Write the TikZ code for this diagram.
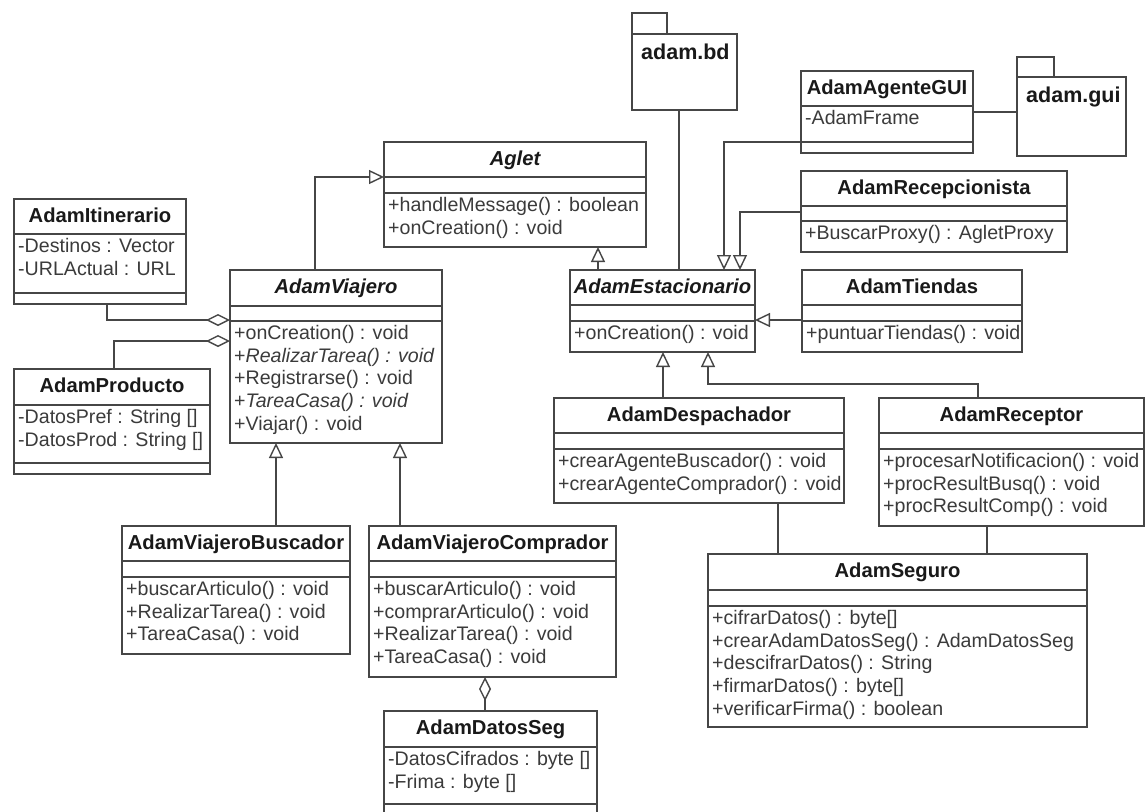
\documentclass[tikz,border=0pt]{standalone}
\usepackage{fontspec}
\setmainfont{Liberation Sans}
\usetikzlibrary{arrows.meta,calc}

\definecolor{ink}{RGB}{25,25,25}
\definecolor{edge}{RGB}{70,70,70}

\tikzset{
  clsbox/.style={draw=edge, line width=1.4pt, fill=white, rectangle, inner sep=0pt, outer sep=0pt},
  ln/.style={draw=edge, line width=1.4pt},
  ttl/.style={font=\fontsize{20.2}{24}\selectfont\bfseries, text=ink, inner sep=0pt, anchor=base},
  txt/.style={font=\fontsize{19.6}{23}\selectfont, text=ink!85, inner sep=0pt, anchor=base west},
  pkgttl/.style={font=\fontsize{21.5}{25}\selectfont\bfseries, text=ink, inner sep=0pt, anchor=base west},
  gen/.style={ln, -{Triangle[open, length=15pt, width=14pt, fill=white]}},
  agg/.style={ln, -{Diamond[open, length=24pt, width=12pt, fill=white]}},
  assoc/.style={ln},
}

% class box: name, left, top, right, first divider, second divider, bottom
\newcommand\umlbox[7]{%
  \pgfmathsetmacro\bw{#4-#2}%
  \pgfmathsetmacro\bh{#7-#3}%
  \node[clsbox, anchor=north west, minimum width=\bw pt, minimum height=\bh pt] (#1) at (#2,#3) {};
  \draw[ln] (#2,#5) -- (#4,#5);
  \draw[ln] (#2,#6) -- (#4,#6);
}
% class name centred in the top compartment
\newcommand\umltitle[2]{%
  \node[ttl] (#1t) at ($(#1.north)+(0,23)$) {#2};
}
% member lines: name, left, compartment top, list of lines
\newcommand\umltext[4]{%
  \foreach \t [count=\i] in {#4} {
    \node[txt] (#1l\i) at ({#2+4},{#3+18.5+(\i-1)*22.7}) {\t};
  }
}
% package: name, left, tab top, tab right, body top, right, bottom
\newcommand\umlpkg[8]{%
  \pgfmathsetmacro\bw{#6-#2}%
  \pgfmathsetmacro\bh{#7-#5}%
  \draw[ln, fill=white] (#2,#5) -- (#2,#3) -- (#4,#3) -- (#4,#5);
  \node[clsbox, anchor=north west, minimum width=\bw pt, minimum height=\bh pt] (#1) at (#2,#5) {};
  \node[pkgttl] (#1t) at ($(#1.north west)+(9,25)$) {#8};
}

\begin{document}
\begin{tikzpicture}[x=1pt, y=-1pt]
\useasboundingbox (0,0) rectangle (1147,811);
\fill[white] (0,0) rectangle (1147,811);
\clip (0,0) rectangle (1147,811);

% ---------- packages ----------
\umlpkg{bd}{632}{13}{667}{34}{737}{110}{adam.bd}
\umlpkg{guipkg}{1017}{57}{1054}{77}{1126}{156}{adam.gui}

% ---------- classes ----------
\umlbox{aglet}{384}{142}{646}{177}{193}{247}
\umltitle{aglet}{\itshape Aglet}
\umltext{aglet}{384}{193}{{+handleMessage() : boolean},{+onCreation() : void}}

\umlbox{itin}{14}{199}{186}{234}{293}{304}
\umltitle{itin}{AdamItinerario}
\umltext{itin}{14}{234}{{-Destinos : Vector},{-URLActual : URL}}

\umlbox{viajero}{230}{270}{442}{306}{321}{443}
\umltitle{viajero}{\itshape AdamViajero}
\umltext{viajero}{230}{321}{{+onCreation() : void},{+\textit{RealizarTarea() : void}},{+Registrarse() : void},{+\textit{TareaCasa() : void}},{+Viajar() : void}}

\umlbox{prod}{14}{369}{210}{405}{463}{474}
\umltitle{prod}{AdamProducto}
\umltext{prod}{14}{405}{{-DatosPref : String []},{-DatosProd : String []}}

\umlbox{busc}{122}{526}{350}{561}{577}{654}
\umltitle{busc}{AdamViajeroBuscador}
\umltext{busc}{122}{577}{{+buscarArticulo() : void},{+RealizarTarea() : void},{+TareaCasa() : void}}

\umlbox{comp}{369}{526}{616}{561}{577}{677}
\umltitle{comp}{AdamViajeroComprador}
\umltext{comp}{369}{577}{{+buscarArticulo() : void},{+comprarArticulo() : void},{+RealizarTarea() : void},{+TareaCasa() : void}}

\umlbox{datos}{384}{711}{597}{747}{804}{830}
\umltitle{datos}{AdamDatosSeg}
\umltext{datos}{384}{747}{{-DatosCifrados : byte []},{-Frima : byte []}}

\umlbox{estac}{570}{270}{755}{305}{321}{352}
\umltitle{estac}{\itshape AdamEstacionario}
\umltext{estac}{570}{321}{{+onCreation() : void}}

\umlbox{tiendas}{802}{270}{1022}{305}{321}{352}
\umltitle{tiendas}{AdamTiendas}
\umltext{tiendas}{802}{321}{{+puntuarTiendas() : void}}

\umlbox{gui}{801}{71}{973}{106}{142}{153}
\umltitle{gui}{AdamAgenteGUI}
\umltext{gui}{801}{106}{{-AdamFrame}}

\umlbox{recep}{801}{171}{1067}{206}{221}{252}
\umltitle{recep}{AdamRecepcionista}
\umltext{recep}{801}{221}{{+BuscarProxy() : AgletProxy}}

\umlbox{desp}{554}{398}{844}{433}{449}{503}
\umltitle{desp}{AdamDespachador}
\umltext{desp}{554}{449}{{+crearAgenteBuscador() : void},{+crearAgenteComprador() : void}}

\umlbox{recept}{879}{398}{1144}{433}{449}{526}
\umltitle{recept}{AdamReceptor}
\umltext{recept}{879}{449}{{+procesarNotificacion() : void},{+procResultBusq() : void},{+procResultComp() : void}}

\umlbox{seguro}{708}{554}{1087}{590}{606}{727}
\umltitle{seguro}{AdamSeguro}
\umltext{seguro}{708}{606}{{+cifrarDatos() : byte[]},{+crearAdamDatosSeg() : AdamDatosSeg},{+descifrarDatos() : String},{+firmarDatos() : byte[]},{+verificarFirma() : boolean}}

% ---------- relations ----------
\draw[gen] ($(viajero.north west)+(85,0)$) |- ($(aglet.north west)+(0,35)$);
\draw[agg] ($(itin.south west)+(93,0)$) |- ($(viajero.north west)+(0,50)$);
\draw[agg] ($(prod.north west)+(100,0)$) |- ($(viajero.north west)+(0,71)$);
\draw[gen] ($(busc.north west)+(154,0)$) -- ($(viajero.south west)+(46,0)$);
\draw[gen] ($(comp.north west)+(31,0)$) -- ($(viajero.south west)+(170,0)$);
\draw[agg] ($(datos.north west)+(101,0)$) -- ($(comp.south west)+(116,0)$);

\draw[gen] ($(estac.north west)+(28,0)$) -- ($(aglet.south west)+(214,0)$);
\draw[assoc] ($(bd.south west)+(47,0)$) -- ($(estac.north west)+(109,0)$);
\draw[gen] ($(gui.north west)+(0,71)$) -| ($(estac.north west)+(154,0)$);
\draw[gen] ($(recep.north west)+(0,41)$) -| ($(estac.north west)+(170,0)$);
\draw[assoc] ($(gui.north east)+(0,41)$) -- ($(guipkg.north west)+(0,35)$);
\draw[gen] ($(tiendas.north west)+(0,50)$) -- ($(estac.north east)+(0,50)$);

\draw[gen] ($(desp.north west)+(109,0)$) -- ($(estac.south west)+(93,0)$);
\draw[gen] ($(recept.north west)+(99,0)$) -- ++(0,-14) -| ($(estac.south west)+(138,0)$);
\draw[assoc] ($(desp.south west)+(224,0)$) -- ($(seguro.north west)+(70,0)$);
\draw[assoc] ($(recept.south west)+(108,0)$) -- ($(seguro.north west)+(279,0)$);
\end{tikzpicture}
\end{document}
